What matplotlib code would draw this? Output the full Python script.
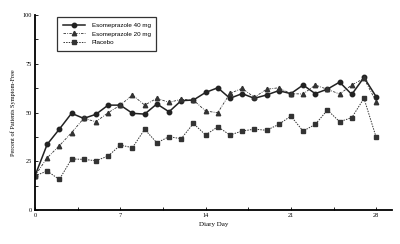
import matplotlib
matplotlib.use("Agg")
import matplotlib.pyplot as plt
import numpy as np

days = list(range(29))
eso40 = [17.6, 33.7, 41.5, 49.6, 47.0, 49.1, 53.8, 53.8, 49.6, 49.2, 54.4, 50.4, 56.1, 56.4, 60.3,
         62.7, 57.3, 59.7, 57.3, 59.0, 61.2, 59.7, 64.1, 59.7, 62.0, 65.6, 59.3, 68.0, 58.1]
eso20 = [17.6, 26.8, 33.0, 39.7, 47.0, 45.3, 49.9, 53.8, 59.0, 53.8, 57.3, 55.2, 56.8, 56.4, 50.8,
         49.9, 59.8, 62.4, 57.8, 61.9, 62.7, 59.7, 59.5, 64.1, 61.9, 59.5, 64.1, 67.5, 55.6]
placebo = [17.6, 20.0, 15.7, 26.2, 26.0, 25.3, 27.7, 33.3, 32.0, 41.4, 34.5, 37.6, 36.6, 44.4, 38.5,
           42.7, 38.5, 40.5, 41.5, 40.9, 43.9, 48.2, 40.5, 43.9, 51.3, 45.3, 47.4, 57.3, 37.3]
labels = ["Esomeprazole 40 mg", "Esomeprazole 20 mg", "Placebo"]
xticks = [0, 7, 14, 21, 28]
yticks = [0, 25, 50, 75, 100]

plt.rcParams['font.family'] = ['Liberation Serif', 'DejaVu Serif']

fig = plt.figure(figsize=(4, 2.44), dpi=100)
ax = fig.add_axes([0.0875, 0.139, 0.8925, 0.7995])

ax.plot(days, eso40, '-', color='#222222', lw=1.1, marker='o', ms=3.2, label=labels[0])
ax.plot(days, eso20, linestyle=(0, (3, 1.5, 1, 1.5)), color='#333333', lw=0.6, marker='^', ms=3.2,
        label=labels[1])
ax.plot(days, placebo, linestyle=(0, (1.5, 1.2)), color='#333333', lw=0.7, marker='s', ms=3.4,
        label=labels[2])

ax.set_xlim(0, 29.3)
ax.set_ylim(0, 100)
ax.set_xticks(xticks)
ax.set_xticks(np.arange(0, 29, 3.5), minor=True)
ax.set_yticks(yticks)
ax.set_yticks(np.arange(0, 101, 12.5), minor=True)
ax.tick_params(which='both', direction='in', labelsize=4.5, width=0.6, length=2.5, pad=2)
for s in ['top', 'right']:
    ax.spines[s].set_visible(False)
for s in ['left', 'bottom']:
    ax.spines[s].set_linewidth(1.3)

ax.set_xlabel("Diary Day", fontsize=5, labelpad=3)
ax.set_ylabel("Percent of Patients Symptom-Free", fontsize=4.5, labelpad=5)

leg = ax.legend(loc='upper left', bbox_to_anchor=(0.143, 0.93), bbox_transform=fig.transFigure,
                prop={'family': ['Liberation Sans', 'DejaVu Sans'], 'size': 4.5},
                frameon=True, fancybox=False, borderpad=0.9, handlelength=3.6,
                labelspacing=0.5, handletextpad=1.0, borderaxespad=0)
leg.get_frame().set_edgecolor('black')
leg.get_frame().set_linewidth(0.9)

fig.savefig("out.png", dpi=100)
